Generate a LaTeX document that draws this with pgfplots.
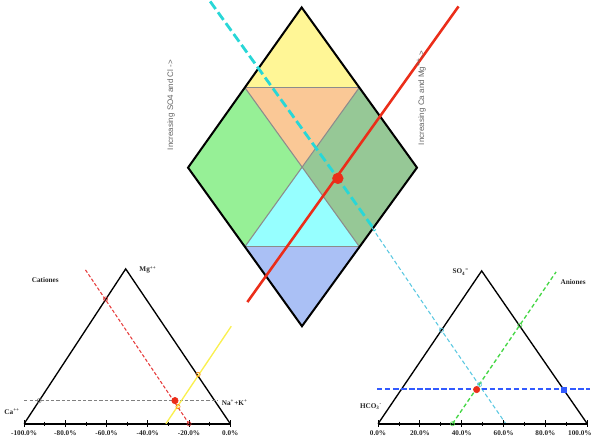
\documentclass[border=0pt]{standalone}
\usepackage{pgfplots}
\pgfplotsset{compat=1.18}
\usepackage{fontspec}
\setmainfont{Liberation Serif}
\setsansfont{Liberation Sans}
\definecolor{cYel}{RGB}{255,246,150}
\definecolor{cOra}{RGB}{250,200,150}
\definecolor{cLgr}{RGB}{150,240,150}
\definecolor{cDgr}{RGB}{150,200,150}
\definecolor{cCya}{RGB}{150,255,255}
\definecolor{cBlu}{RGB}{170,192,245}
\definecolor{cRed}{RGB}{235,45,25}
\definecolor{cRedL}{RGB}{230,60,60}
\definecolor{cCyan}{RGB}{40,215,215}
\definecolor{cCyanL}{RGB}{90,200,225}
\definecolor{cYelL}{RGB}{250,240,80}
\definecolor{cGrn}{RGB}{70,215,70}
\definecolor{cBlue}{RGB}{50,90,255}
\definecolor{cInner}{RGB}{140,140,140}
\definecolor{cTxt}{RGB}{100,100,100}
\begin{document}
\begin{tikzpicture}
\begin{axis}[scale only axis, width=444.75bp, height=333.75bp,
  xmin=0, xmax=593, ymin=0, ymax=445, y dir=reverse,
  hide axis, clip=true]
% ---------- diamond regions ----------
\addplot[fill=cYel, draw=none] coordinates {(303,13) (360.3,92.7) (246.5,92.7)} --cycle;
\addplot[fill=cOra, draw=none] coordinates {(246.5,92.7) (360.3,92.7) (303.5,172.3)} --cycle;
\addplot[fill=cLgr, draw=none] coordinates {(246.5,92.7) (303.5,172.3) (246.5,251) (190,172.3)} --cycle;
\addplot[fill=cDgr, draw=none] coordinates {(360.3,92.7) (417.7,172.3) (360.5,251) (303.5,172.3)} --cycle;
\addplot[fill=cCya, draw=none] coordinates {(303.5,172.3) (360.5,251) (246.5,251)} --cycle;
\addplot[fill=cBlu, draw=none] coordinates {(246.5,251) (360.5,251) (303.3,330)} --cycle;
\addplot[cInner, line width=0.8bp] coordinates {(246.5,92.7) (360.5,251)};
\addplot[cInner, line width=0.8bp] coordinates {(360.3,92.7) (246.5,251)};
\addplot[cInner, line width=0.8bp] coordinates {(246.5,92.7) (360.3,92.7)};
\addplot[cInner, line width=0.8bp] coordinates {(246.5,251) (360.5,251)};
\addplot[black, line width=1.5bp] coordinates {(303,13) (417.7,172.3) (303.3,330) (190,172.3)} --cycle;
% ---------- projection lines ----------
\addplot[cCyanL, line width=0.8bp, dash pattern=on 3bp off 2bp] coordinates {(373,232) (442,334) (506,427)};
\addplot[cCyan, line width=2.1bp, dash pattern=on 7bp off 3bp] coordinates {(212,7) (339,183) (376,235)};
\addplot[cRed, line width=1.9bp] coordinates {(249,306) (459,12)};
\addplot[only marks, mark=*, mark size=4bp, color=cRed] coordinates {(339,183)};
% ---------- cation triangle ----------
\addplot[black, line width=1bp] coordinates {(27,427) (128,273) (232,427)};
\addplot[black, line width=1.5bp] coordinates {(27,427) (232,427)};
\pgfplotsinvokeforeach{27,68,109,150,191,232}{\addplot[black, line width=0.8bp] coordinates {(#1,423.5) (#1,430.5)};}
\pgfplotsinvokeforeach{47.5,88.5,129.5,170.5,211.5}{\addplot[black, line width=0.6bp] coordinates {(#1,425) (#1,429)};}
\addplot[gray, line width=0.6bp, dash pattern=on 2.5bp off 1.5bp] coordinates {(27,404) (220,404)};
\addplot[cRedL, line width=0.8bp, dash pattern=on 2.5bp off 1.5bp] coordinates {(88,274) (191,427)};
\addplot[cYelL, line width=1bp] coordinates {(168,427) (233,330)};
\addplot[only marks, mark=o, mark size=1.6bp, color=gray] coordinates {(42,404)};
\addplot[only marks, mark=o, mark size=1.6bp, color=cRedL] coordinates {(108,303) (191,427)};
\addplot[only marks, mark=o, mark size=1.6bp, color=orange] coordinates {(200,378) (180,410)};
\addplot[only marks, mark=*, mark size=2.4bp, color=cRed] coordinates {(177,404)};
% ---------- anion triangle ----------
\addplot[black, line width=1bp] coordinates {(379,427) (482,275) (587,427)};
\addplot[black, line width=1.5bp] coordinates {(379,427) (587,427)};
\pgfplotsinvokeforeach{379,420.6,462.2,503.8,545.4,587}{\addplot[black, line width=0.8bp] coordinates {(#1,423.5) (#1,430.5)};}
\pgfplotsinvokeforeach{399.8,441.4,483,524.6,566.2}{\addplot[black, line width=0.6bp] coordinates {(#1,425) (#1,429)};}
\addplot[draw=cBlue, line width=1.7bp, dash pattern=on 4bp off 2bp] coordinates {(378,392.5) (590,392.5)};
\addplot[cGrn, line width=1bp, dash pattern=on 3bp off 2bp] coordinates {(453,427) (556,276)};
\addplot[only marks, mark=square*, mark size=1.8bp, color=cBlue] coordinates {(564,393)};
\addplot[only marks, mark=o, mark size=1.6bp, color=cGrn] coordinates {(453,427) (520,329)};
\addplot[only marks, mark=o, mark size=1.6bp, color=cCyanL] coordinates {(442,334) (480,388)};
\addplot[only marks, mark=*, mark size=2.4bp, color=cRed] coordinates {(477,393)};
% ---------- labels ----------
\node[rotate=90, text=cTxt, font=\sffamily\fontsize{6}{7}\selectfont] at (axis cs:173,110) {Increasing SO4 and Cl ->};
\node[rotate=90, text=cTxt, font=\sffamily\fontsize{6}{7}\selectfont] at (axis cs:422,103) {Increasing Ca and Mg\textsuperscript{++}->};
\begin{scope}[every node/.style={font=\bfseries\fontsize{5.4}{6}\selectfont, text=black!85}]
\node at (axis cs:48,284) {Cationes};
\node[anchor=west] at (axis cs:137,274) {Mg\textsuperscript{++}};
\node at (axis cs:15,415) {Ca\textsuperscript{++}};
\node[anchor=west] at (axis cs:219,406) {Na\textsuperscript{+}+K\textsuperscript{+}};
\node at (axis cs:27,436) {-100.0\%};
\node at (axis cs:68,436) {-80.0\%};
\node at (axis cs:109,436) {-60.0\%};
\node at (axis cs:150,436) {-40.0\%};
\node at (axis cs:191,436) {-20.0\%};
\node at (axis cs:232,436) {0.0\%};
\node[anchor=east] at (axis cs:474,276) {SO\textsubscript{4}\textsuperscript{=}};
\node at (axis cs:573,286) {Aniones};
\node at (axis cs:372,410) {HCO\textsubscript{3}\textsuperscript{-}};
\node at (axis cs:379,436) {0.0\%};
\node at (axis cs:420.6,436) {20.0\%};
\node at (axis cs:462.2,436) {40.0\%};
\node at (axis cs:503.8,436) {60.0\%};
\node at (axis cs:545.4,436) {80.0\%};
\node[anchor=east, inner xsep=1bp] at (axis cs:593,436) {100.0\%};
\end{scope}
\end{axis}
\end{tikzpicture}
\end{document}
